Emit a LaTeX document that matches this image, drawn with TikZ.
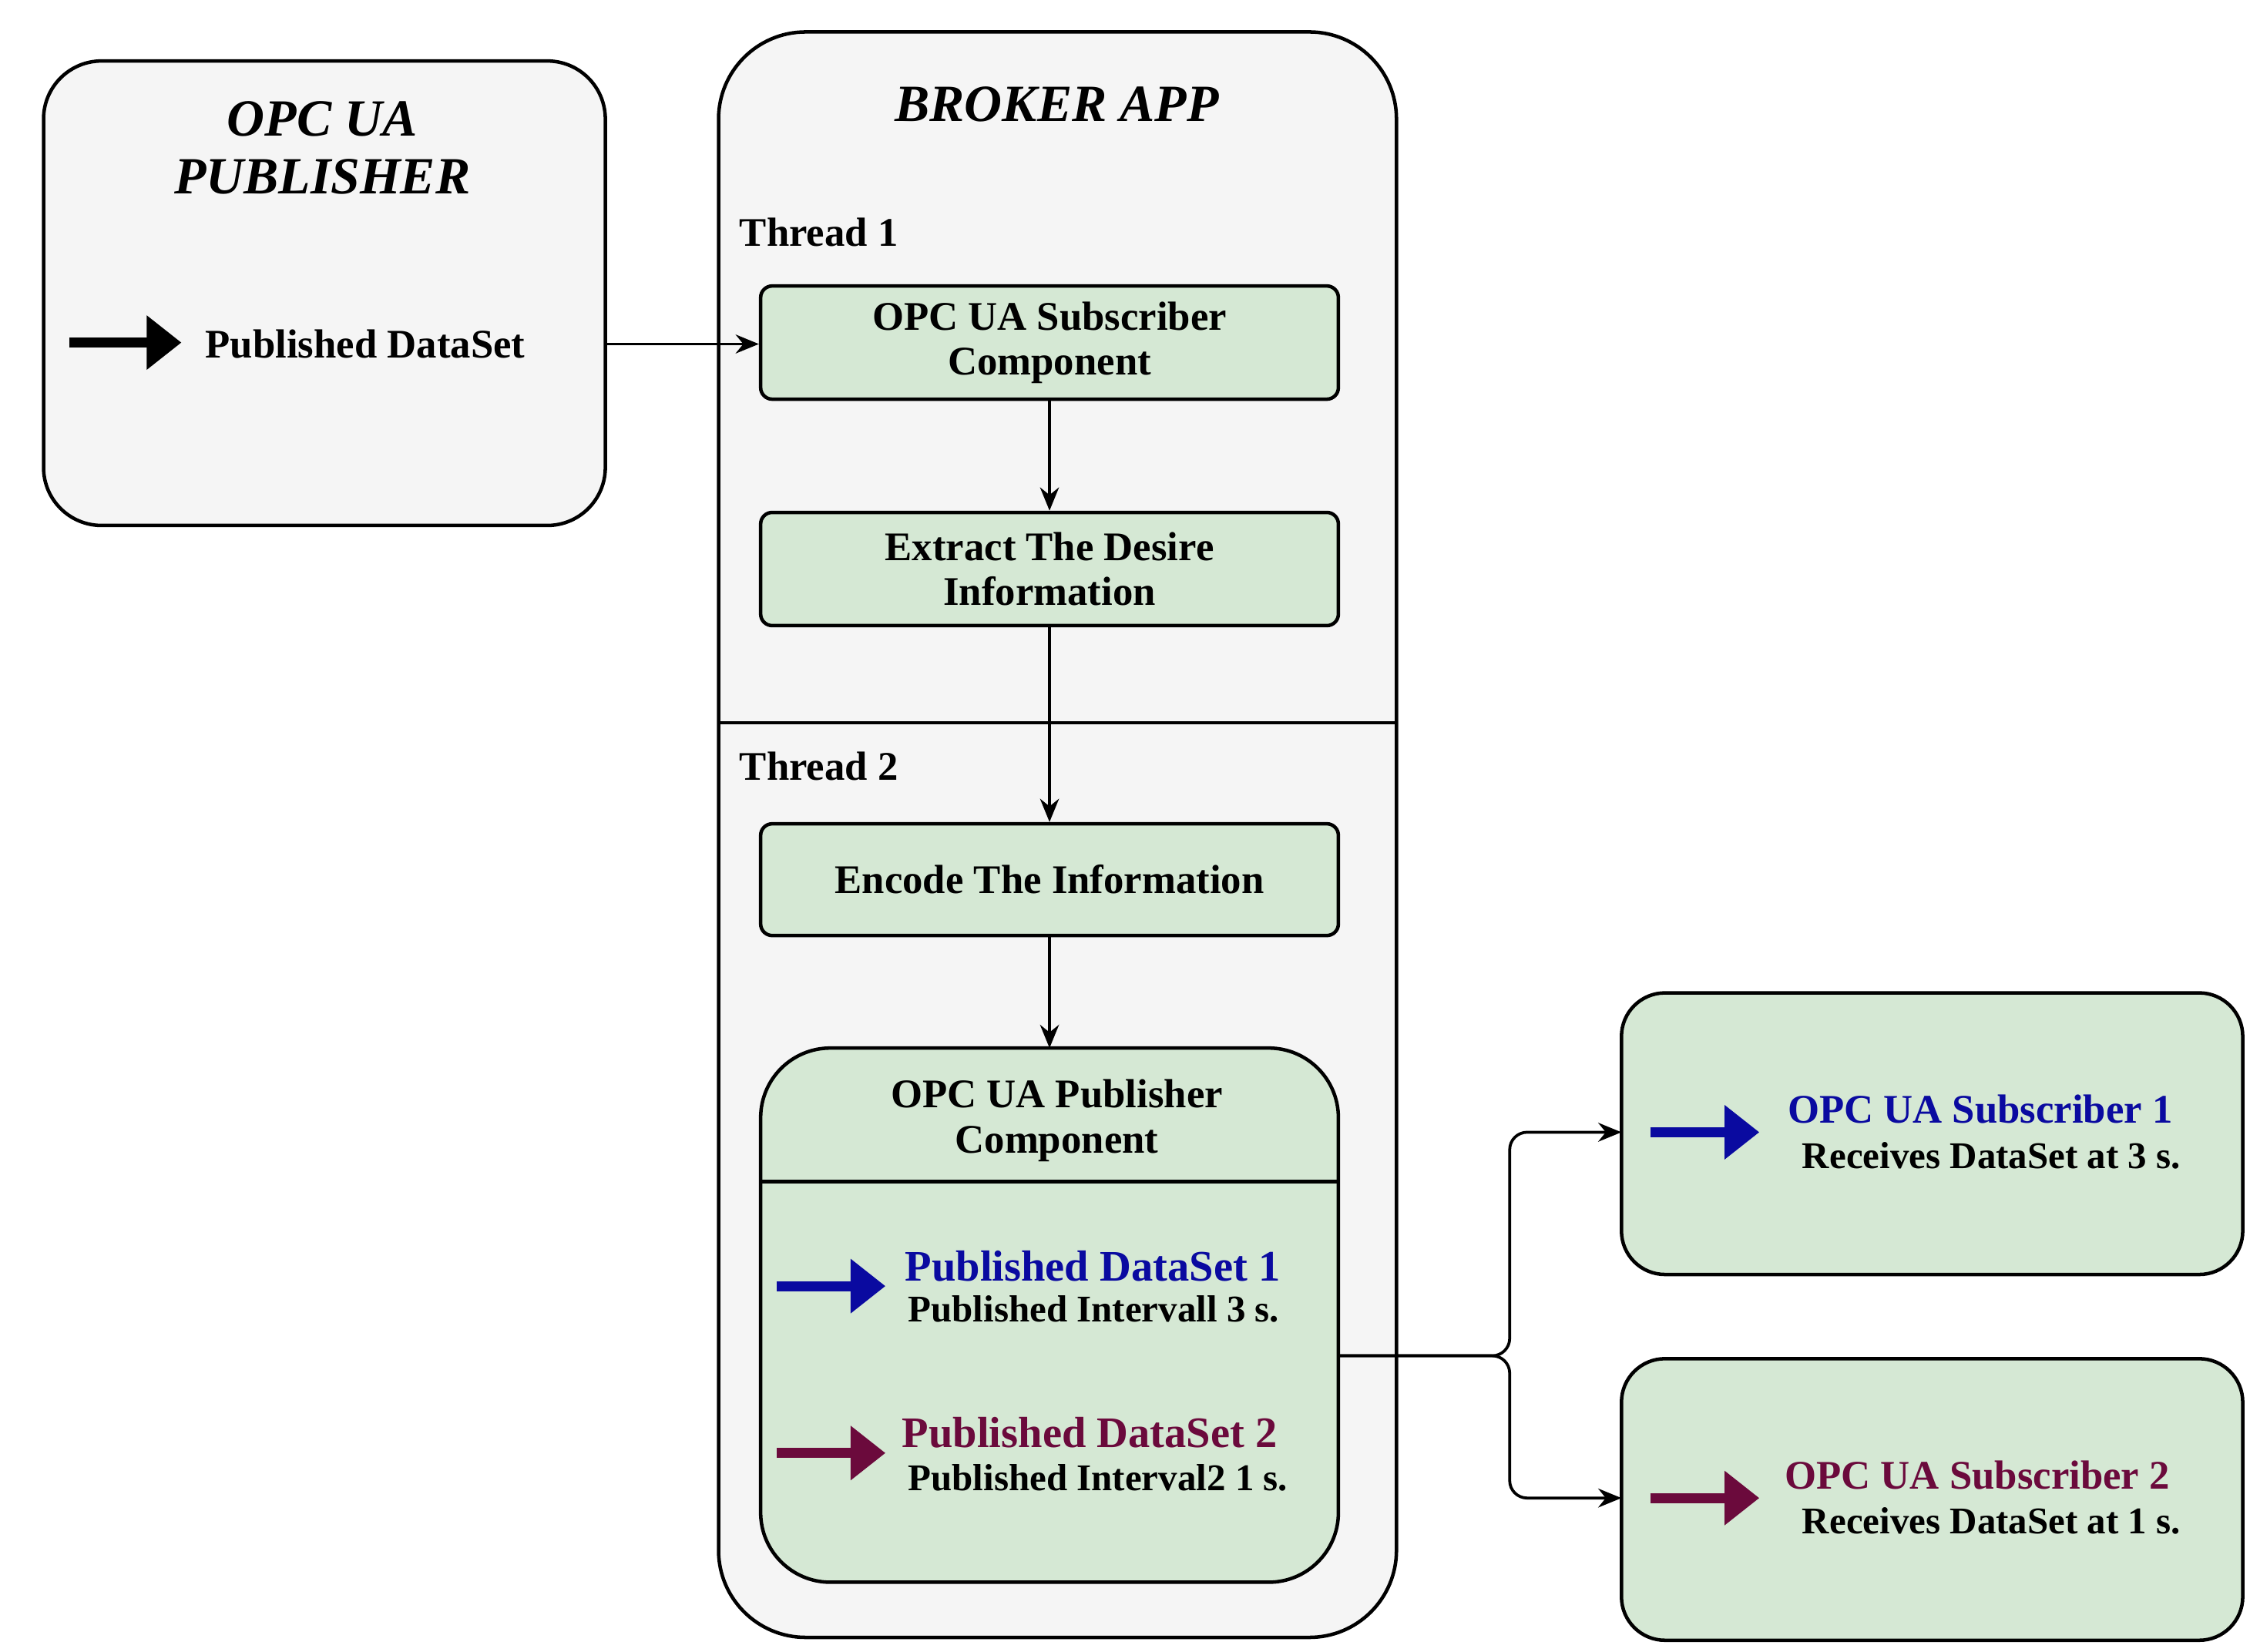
\documentclass[tikz,border=0pt]{standalone}
\usepackage{fontspec}
\setmainfont{Liberation Serif}
\usetikzlibrary{arrows.meta,calc}
\definecolor{gbox}{HTML}{D5E8D4}
\definecolor{gfill}{HTML}{F5F5F5}
\definecolor{dblue}{HTML}{0A0AA0}
\definecolor{maroon}{HTML}{6B0A3C}
\begin{document}
\begin{tikzpicture}[x=1pt,y=-1pt,
  outer/.style={draw,line width=2.4pt,fill=gfill},
  stepbox/.style={draw,line width=2.4pt,fill=gbox,rounded corners=8pt},
  txt/.style={font=\bfseries\fontsize{28}{31}\selectfont,align=center},
  small/.style={font=\bfseries\fontsize{26}{28}\selectfont},
  conn/.style={line width=2pt,-{Stealth[length=16pt,width=13pt]}},
  fat/.style={line width=7pt,-{Triangle[length=24pt,width=36pt]}}]
\useasboundingbox (0,0) rectangle (1550,1138);
% left publisher
\draw[outer,rounded corners=40pt] (30,42) rectangle (417,362);
\coordinate (lpE) at (417,237);
\node[txt,font=\bfseries\itshape\fontsize{36}{40}\selectfont] (pt) at (222,102) {OPC UA\\PUBLISHER};
\coordinate (pa1) at (48,236);
\coordinate (pa2) at (125,236);
\draw[fat] (pa1) -- (pa2);
\node[txt,anchor=west] (pds) at (138,237) {Published DataSet};
% broker
\draw[outer,rounded corners=60pt] (495,22) rectangle (962,1128);
\node[txt,font=\bfseries\itshape\fontsize{36}{40}\selectfont] (bt) at (728,72) {BROKER APP};
\coordinate (d1) at (495,498); \coordinate (d2) at (962,498);
\draw[line width=2.4pt] (d1) -- (d2);
\node[txt,anchor=west] (t1) at (506,160) {Thread 1};
\node[txt,anchor=west] (t2) at (506,528) {Thread 2};
\node[stepbox,txt,minimum width=398pt,minimum height=78pt] (b1) at (723,236) {OPC UA Subscriber\\Component};
\node[stepbox,txt,minimum width=398pt,minimum height=78pt] (b2) at (723,392) {Extract The Desire\\Information};
\node[stepbox,txt,minimum width=398pt,minimum height=77pt] (b3) at (723,606) {Encode The Information};
% publisher component
\draw[line width=2.4pt,fill=gbox,rounded corners=48pt] (524,722) rectangle (922,1090);
\coordinate (pcN) at (723,722);
\coordinate (pcE) at (922,934);
\coordinate (pd1) at (524,814); \coordinate (pd2) at (922,814);
\draw[line width=2.4pt] (pd1) -- (pd2);
\node[txt] (pch) at (728,772) {OPC UA Publisher\\Component};
\coordinate (ba1) at (535,886); \coordinate (ba2) at (610,886);
\draw[fat,dblue] (ba1) -- (ba2);
\node[txt,anchor=west,text=dblue,font=\bfseries\fontsize{30}{32}\selectfont] (ds1) at (620,872) {Published DataSet 1};
\node[small,anchor=west] (pi1) at (622,902) {Published Intervall 3 s.};
\coordinate (ma1) at (535,1001); \coordinate (ma2) at (610,1001);
\draw[fat,maroon] (ma1) -- (ma2);
\node[txt,anchor=west,text=maroon,font=\bfseries\fontsize{30}{32}\selectfont] (ds2) at (618,987) {Published DataSet 2};
\node[small,anchor=west] (pi2) at (622,1018) {Published Interval2 1 s.};
% subscribers
\draw[line width=2.4pt,fill=gbox,rounded corners=30pt] (1117,684) rectangle (1545,878);
\coordinate (s1W) at (1117,780);
\coordinate (sa1) at (1137,780); \coordinate (sa2) at (1212,780);
\draw[fat,dblue] (sa1) -- (sa2);
\node[txt,anchor=west,text=dblue] (s1t) at (1228,764) {OPC UA Subscriber 1};
\node[small,anchor=west] (s1r) at (1238,796) {Receives DataSet at 3 s.};
\draw[line width=2.4pt,fill=gbox,rounded corners=30pt] (1117,936) rectangle (1545,1130);
\coordinate (s2W) at (1117,1032);
\coordinate (sb1) at (1137,1032); \coordinate (sb2) at (1212,1032);
\draw[fat,maroon] (sb1) -- (sb2);
\node[txt,anchor=west,text=maroon] (s2t) at (1226,1016) {OPC UA Subscriber 2};
\node[small,anchor=west] (s2r) at (1238,1048) {Receives DataSet at 1 s.};
% connectors
\draw[conn] (lpE) -- (b1.west |- lpE);
\draw[conn] (b1) -- (b2);
\draw[conn] (b2.south) -- (b3.north);
\draw[conn] (b3) -- (pcN);
\draw[conn,rounded corners=12pt] (pcE) -- (1040,934) -- (1040,780) -- (s1W);
\draw[conn,rounded corners=12pt] (pcE) -- (1040,934) -- (1040,1032) -- (s2W);
\end{tikzpicture}
\end{document}
